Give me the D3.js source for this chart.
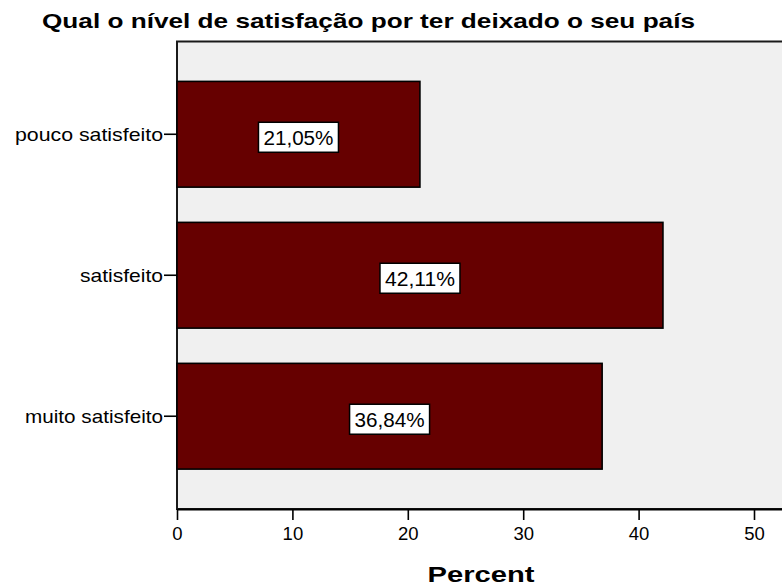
<!DOCTYPE html>
<html>
<head>
<meta charset="utf-8">
<script src="https://cdn.jsdelivr.net/npm/d3@7"></script>
<style>
  html, body { margin: 0; padding: 0; background: #fff; }
  svg { display: block; font-family: "Liberation Sans", Arial, sans-serif; }
</style>
</head>
<body>
<svg id="chart" width="782" height="588"></svg>
<script>
const title = "Qual o nível de satisfação por ter deixado o seu país";
const categories = ["pouco satisfeito", "satisfeito", "muito satisfeito"];
const percents = [21.05, 42.11, 36.84];
const valueLabels = ["21,05%", "42,11%", "36,84%"];
const xTicks = [0, 10, 20, 30, 40, 50];
const xTitle = "Percent";

const svg = d3.select("#chart");
const plotLeft = 177, plotTop = 41.5, plotBottom = 509;
const pxPerUnit = 11.54;
const plotRight = plotLeft + pxPerUnit * 56;

const x = d3.scaleLinear().domain([0, 56]).range([plotLeft, plotRight]);
const y = d3.scaleBand().domain(categories).range([plotTop, plotBottom])
  .paddingInner(0.25).paddingOuter(0.283);

// plot background / frame
svg.append("rect")
  .attr("x", plotLeft).attr("y", plotTop)
  .attr("width", plotRight - plotLeft).attr("height", plotBottom - plotTop)
  .attr("fill", "#f0f0f0")
  .attr("stroke", "#1a1a1a").attr("stroke-width", 2);

// bars
svg.selectAll("rect.bar").data(categories).join("rect")
  .attr("class", "bar")
  .attr("x", x(0))
  .attr("y", d => y(d))
  .attr("width", (d, i) => x(percents[i]) - x(0))
  .attr("height", y.bandwidth())
  .attr("fill", "#660000")
  .attr("stroke", "#000").attr("stroke-width", 1.6);

// value labels
const lab = svg.selectAll("g.vlab").data(categories).join("g")
  .attr("class", "vlab")
  .attr("transform", (d, i) => `translate(${(x(0) + x(percents[i])) / 2},${y(d) + y.bandwidth() / 2 + 3})`);
lab.append("rect")
  .attr("x", -40).attr("y", -15).attr("width", 80).attr("height", 30)
  .attr("fill", "#fff").attr("stroke", "#000").attr("stroke-width", 1.5);
lab.append("text")
  .attr("text-anchor", "middle")
  .attr("y", 7.5)
  .attr("font-size", 20)
  .attr("textLength", 70).attr("lengthAdjust", "spacingAndGlyphs")
  .text((d, i) => valueLabels[i]);

// y axis
const yAxis = svg.append("g")
  .attr("transform", `translate(${plotLeft},0)`)
  .call(d3.axisLeft(y).tickSize(13).tickPadding(1));
yAxis.select(".domain").remove();
yAxis.selectAll(".tick line").attr("stroke", "#000").attr("stroke-width", 1.6);
yAxis.selectAll(".tick text")
  .attr("font-size", 18.5).attr("fill", "#000")
  .attr("dy", "0.35em")
  .attr("textLength", d => ({ "pouco satisfeito": 148, "satisfeito": 83, "muito satisfeito": 138 })[d])
  .attr("lengthAdjust", "spacingAndGlyphs");

// x axis
const xAxis = svg.append("g")
  .attr("transform", `translate(0,${plotBottom})`)
  .call(d3.axisBottom(x).tickValues(xTicks).tickSize(11).tickPadding(7).tickSizeOuter(0));
xAxis.select(".domain").attr("stroke", "#000").attr("stroke-width", 2);
xAxis.selectAll(".tick line").attr("stroke", "#000").attr("stroke-width", 1.6);
xAxis.selectAll(".tick text").attr("font-size", 18.5).attr("fill", "#000");

// titles
svg.append("text")
  .attr("x", 42).attr("y", 28)
  .attr("font-size", 21).attr("font-weight", "bold")
  .attr("textLength", 653).attr("lengthAdjust", "spacingAndGlyphs")
  .text(title);

svg.append("text")
  .attr("x", 481).attr("y", 582)
  .attr("text-anchor", "middle")
  .attr("font-size", 22).attr("font-weight", "bold")
  .attr("textLength", 107).attr("lengthAdjust", "spacingAndGlyphs")
  .text(xTitle);
</script>
</body>
</html>
